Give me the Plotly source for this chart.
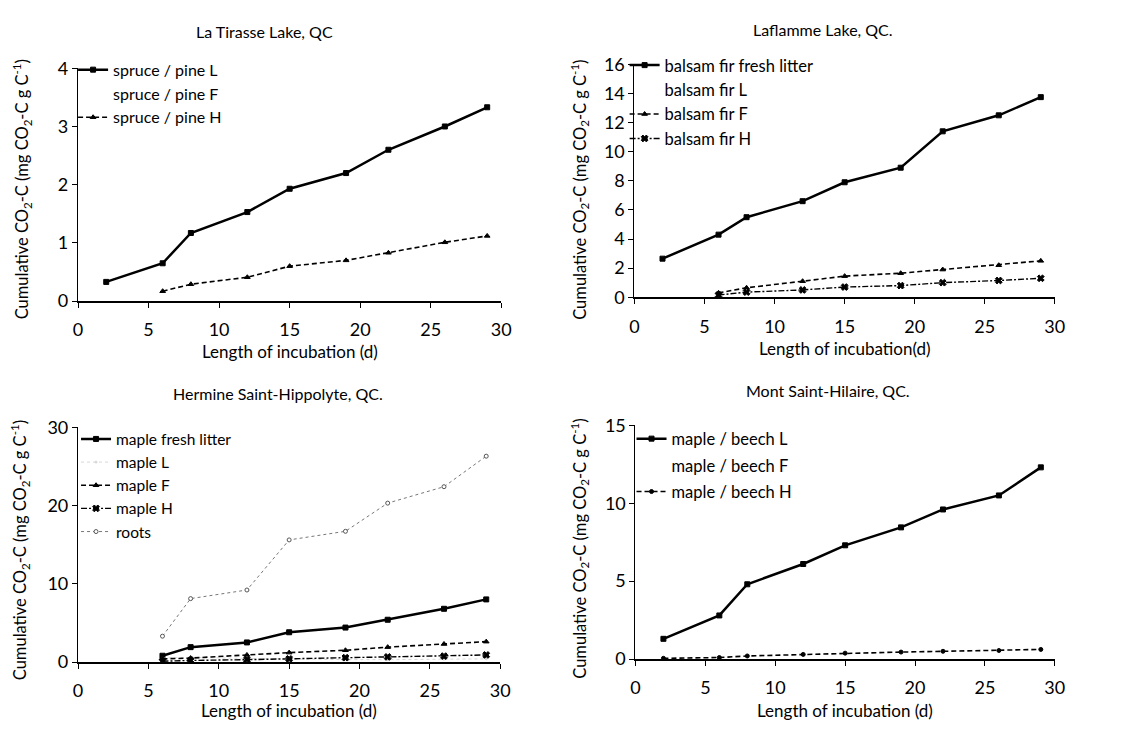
import plotly.graph_objects as go

# Incubation days
days = [2, 6, 8, 12, 15, 19, 22, 26, 29]
days6 = [6, 8, 12, 15, 19, 22, 26, 29]

# La Tirasse Lake
tirasse_L = [0.33, 0.65, 1.17, 1.53, 1.93, 2.20, 2.60, 3.00, 3.33]
tirasse_H = [0.17, 0.29, 0.41, 0.60, 0.70, 0.83, 1.01, 1.12]

# Laflamme Lake
laflamme_fresh = [2.65, 4.30, 5.50, 6.60, 7.90, 8.90, 11.40, 12.50, 13.75]
laflamme_F = [0.30, 0.65, 1.10, 1.45, 1.65, 1.90, 2.20, 2.50]
laflamme_H = [0.15, 0.35, 0.50, 0.70, 0.80, 1.00, 1.15, 1.30]

# Hermine Saint-Hippolyte
hermine_fresh = [0.8, 1.9, 2.5, 3.8, 4.4, 5.4, 6.8, 8.0]
hermine_L = [0.5, 0.6, 0.45, 0.35, 0.3, 0.3, 0.35, 0.4]
hermine_F = [0.4, 0.5, 0.9, 1.2, 1.5, 1.9, 2.3, 2.6]
hermine_H = [0.1, 0.2, 0.3, 0.4, 0.55, 0.65, 0.75, 0.9]
hermine_roots = [3.3, 8.1, 9.2, 15.6, 16.7, 20.3, 22.4, 26.3]

# Mont Saint-Hilaire
hilaire_L = [1.3, 2.8, 4.8, 6.1, 7.3, 8.45, 9.6, 10.5, 12.3]
hilaire_H = [0.05, 0.10, 0.20, 0.30, 0.38, 0.45, 0.50, 0.55, 0.62]

FONT = "Lato"
W, H = 1124, 737

fig = go.Figure()


def add(x, y, name, ax, leg, width=2.5, dash="solid", symbol="square",
        size=5, color="black", mcolor=None, mline=None):
    fig.add_trace(go.Scatter(
        x=x, y=y, name=name, mode="lines+markers",
        xaxis="x" + ax, yaxis="y" + ax, legend=leg, legendgroup=name + ax,
        line=dict(color=color, width=width, dash=dash),
        marker=dict(symbol=symbol, size=size, color=mcolor or color,
                    line=dict(color=mline or color, width=1)),
    ))


def blank(name, ax, leg):
    fig.add_trace(go.Scatter(
        x=[None], y=[None], name=name, mode="lines",
        xaxis="x" + ax, yaxis="y" + ax, legend=leg, legendgroup=name + ax,
        line=dict(color="rgba(0,0,0,0)", width=1),
    ))


# Panel 1
add(days, tirasse_L, "spruce / pine L", "", "legend")
blank("spruce / pine F", "", "legend")
add(days6, tirasse_H, "spruce / pine H", "", "legend", width=1.6, dash="5px,3px",
    symbol="triangle-up", size=5)

# Panel 2
add(days, laflamme_fresh, "balsam fir fresh litter", "2", "legend2")
blank("balsam fir L", "2", "legend2")
add(days6, laflamme_F, "balsam fir F", "2", "legend2", width=1.6, dash="5px,3px",
    symbol="triangle-up", size=5)
add(days6, laflamme_H, "balsam fir H", "2", "legend2", width=1.4, dash="6px,2px,2px,2px",
    symbol="x", size=6)

# Panel 3
add(days6, hermine_fresh, "maple fresh litter", "3", "legend3")
add(days6, hermine_L, "maple L", "3", "legend3", width=1, dash="dot", symbol="circle",
    size=2, color="#d8d8d8")
add(days6, hermine_F, "maple F", "3", "legend3", width=1.6, dash="5px,3px",
    symbol="triangle-up", size=5)
add(days6, hermine_H, "maple H", "3", "legend3", width=1.4, dash="6px,2px,2px,2px",
    symbol="x", size=6)
add(days6, hermine_roots, "roots", "3", "legend3", width=1, dash="dot",
    symbol="circle", size=4, color="#777777", mcolor="white", mline="#555555")

# Panel 4
add(days, hilaire_L, "maple / beech L", "4", "legend4")
blank("maple / beech F", "4", "legend4")
add(days, hilaire_H, "maple / beech H", "4", "legend4", width=1.6, dash="5px,3px",
    symbol="circle", size=4)


def px_x(p):
    return p / W


def px_y(p):
    return 1 - p / H


def xax(x0, x1, anchor):
    return dict(domain=[px_x(x0), px_x(x1)], range=[0, 30], anchor=anchor,
                tickvals=[0, 5, 10, 15, 20, 25, 30], ticks="outside", ticklen=5,
                tickwidth=1, tickcolor="black", showline=True, linecolor="black",
                linewidth=1.5, showgrid=False, zeroline=False, ticklabelstandoff=7,
                tickfont=dict(size=18, family=FONT, color="black"))


def yax(top, bottom, anchor, rng, dtick):
    return dict(domain=[px_y(bottom), px_y(top)], range=rng, anchor=anchor,
                dtick=dtick, ticks="outside", ticklen=5, tickwidth=1,
                tickcolor="black", showline=True, linecolor="black",
                linewidth=1.2, showgrid=False, zeroline=False,
                tickfont=dict(size=18, family=FONT, color="black"))


def legend(x, y, size=16, gap=0):
    return dict(x=px_x(x), y=px_y(y), xanchor="left", yanchor="top",
                bgcolor="rgba(0,0,0,0)", tracegroupgap=gap, itemwidth=30,
                font=dict(size=size, family=FONT, color="black"))


ytitle = "Cumulative CO<sub>2</sub>-C (mg CO<sub>2</sub>-C g C<sup>-1</sup>)"

# (text, x, y, angle, size)
labels = [
    ("La Tirasse Lake, QC", 263, 20, 0, 16),
    ("Laflamme Lake, QC.", 829, 18, 0, 16),
    ("Hermine Saint-Hippolyte, QC.", 277, 393, 0, 16),
    ("Mont Saint-Hilaire, QC.", 834, 390, 0, 16),
    ("Length of incubation (d)", 289, 350, 0, 17),
    ("Length of incubation(d)", 851, 347, 0, 17),
    ("Length of incubation (d)", 288, 720, 0, 17),
    ("Length of incubation (d)", 851, 720, 0, 17),
    (ytitle, 17, 183, -90, 16.5),
    (ytitle, 582, 183, -90, 16.5),
    (ytitle, 15, 555, -90, 16.5),
    (ytitle, 582, 553, -90, 16.5),
]

fig.update_layout(
    width=W, height=H, margin=dict(l=0, r=0, t=0, b=0),
    paper_bgcolor="white", plot_bgcolor="white",
    font=dict(family=FONT, color="black"),
    xaxis=xax(74, 503, "y"),
    yaxis=yax(58, 298, "x", [0, 4], 1),
    xaxis2=xax(638, 1064, "y2"),
    yaxis2=yax(54, 294, "x2", [0, 16], 2),
    xaxis3=xax(74, 502, "y3"),
    yaxis3=yax(428, 670, "x3", [0, 30], 10),
    xaxis4=xax(639, 1064, "y4"),
    yaxis4=yax(426, 667, "x4", [0, 15], 5),
    legend=legend(69, 42, 16, 0),
    legend2=legend(628, 37, 16.5, 0),
    legend3=legend(72, 423, 15.5, 0),
    legend4=legend(635, 422, 16.5, 2),
    annotations=[dict(text=t, x=px_x(x), y=px_y(y), xref="paper", yref="paper",
                      showarrow=False, xanchor="center", yanchor="middle",
                      textangle=a, font=dict(size=s, family=FONT, color="black"))
                 for t, x, y, a, s in labels],
)

fig.write_html("out.html")
